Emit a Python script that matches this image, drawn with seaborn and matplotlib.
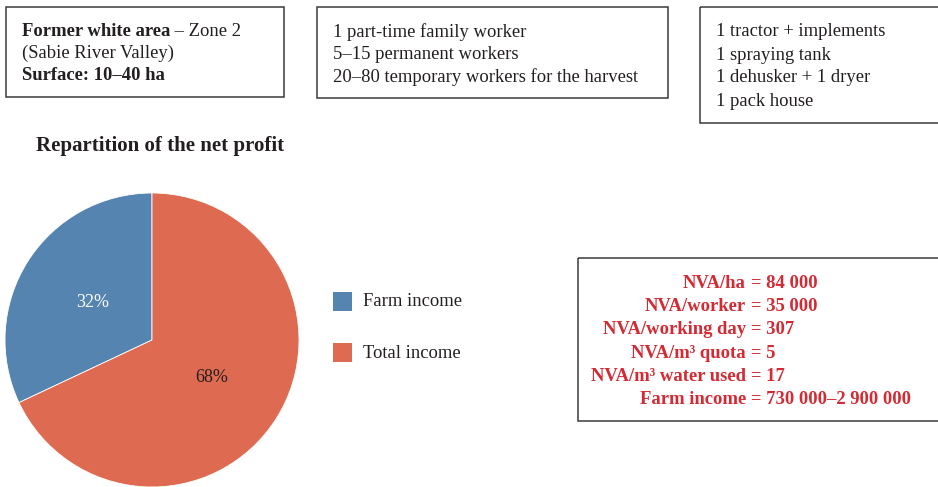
import matplotlib
matplotlib.use("Agg")
import matplotlib.pyplot as plt
import seaborn as sns
from matplotlib.patches import Rectangle

# ---- data ----
slice_labels = ["Farm income", "Total income"]
slice_values = [32, 68]
slice_colors = ["#5584B0", "#DE6B51"]

nva_labels = ["NVA/ha", "NVA/worker", "NVA/working day", "NVA/m³ quota",
              "NVA/m³ water used", "Farm income"]
nva_values = ["84 000", "35 000", "307", "5", "17", "730 000–2 900 000"]

workers = ["1 part-time family worker", "5–15 permanent workers",
           "20–80 temporary workers for the harvest"]
equipment = ["1 tractor + implements", "1 spraying tank",
             "1 dehusker + 1 dryer", "1 pack house"]

sns.set_theme(style="white")
plt.rcParams["font.family"] = ["Liberation Serif", "DejaVu Serif"]

W, H = 938, 487
fig = plt.figure(figsize=(W / 100, H / 100), dpi=100)

# overlay axes in pixel coordinates
ov = fig.add_axes([0, 0, 1, 1])
ov.set_xlim(0, W)
ov.set_ylim(H, 0)
ov.axis("off")

def box(x0, y0, x1, y1):
    ov.add_patch(Rectangle((x0, y0), x1 - x0, y1 - y0, fill=False,
                           edgecolor="#3a3a3a", linewidth=1.1))

dark = "#231f20"
fs = 13.4

# Box 1
box(6, 7, 284, 97)
t = ov.text(22, 32, "Former white area", fontsize=fs, fontweight="bold",
            color=dark, va="center", ha="left")
ov.annotate(" – Zone 2", xy=(1, 0.5), xycoords=t, fontsize=fs, color=dark,
            va="center", ha="left")
ov.text(22, 53, "(Sabie River Valley)", fontsize=fs, color=dark, va="center")
ov.text(22, 75, "Surface: 10–40 ha", fontsize=fs, fontweight="bold",
        color=dark, va="center")

# Box 2
box(317, 7, 668, 98)
for i, s in enumerate(workers):
    ov.text(333, 32 + 22.5 * i, s, fontsize=fs, color=dark, va="center")

# Box 3
box(700, 7, 945, 123)
for i, s in enumerate(equipment):
    ov.text(716, 32 + 23 * i, s, fontsize=fs, color=dark, va="center")

# Title
ov.text(36, 146, "Repartition of the net profit", fontsize=15,
        fontweight="bold", color=dark, va="center")

# Legend
for i, (lab, col) in enumerate(zip(slice_labels, slice_colors)):
    y = 302 + 51 * i
    ov.add_patch(Rectangle((333, y - 10), 19, 19, facecolor=col, edgecolor="none"))
    ov.text(363, y, lab, fontsize=fs, color=dark, va="center")

# NVA box
box(578, 258, 945, 421)
red = "#D42A33"
for i, (lab, val) in enumerate(zip(nva_labels, nva_values)):
    y = 283 + 23.4 * i
    ov.text(746, y, lab, fontsize=fs, fontweight="bold", color=red,
            va="center", ha="right")
    ov.text(751, y, "= " + val, fontsize=fs, fontweight="bold", color=red,
            va="center", ha="left")

# Pie
cx, cy, r = 152, 340, 147
pax = fig.add_axes([(cx - r) / W, (H - cy - r) / H, 2 * r / W, 2 * r / H])
wedges, texts, autotexts = pax.pie(
    slice_values, colors=slice_colors, startangle=90, counterclock=True,
    autopct="%d%%", pctdistance=0.48, radius=1,
    wedgeprops=dict(edgecolor="white", linewidth=0.6),
    textprops=dict(fontsize=13))
autotexts[0].set_color("white")
autotexts[1].set_color(dark)
pax.set_xlim(-1, 1)
pax.set_ylim(-1, 1)
pax.set_aspect("equal")
pax.axis("off")

fig.savefig("out.png", dpi=100)
